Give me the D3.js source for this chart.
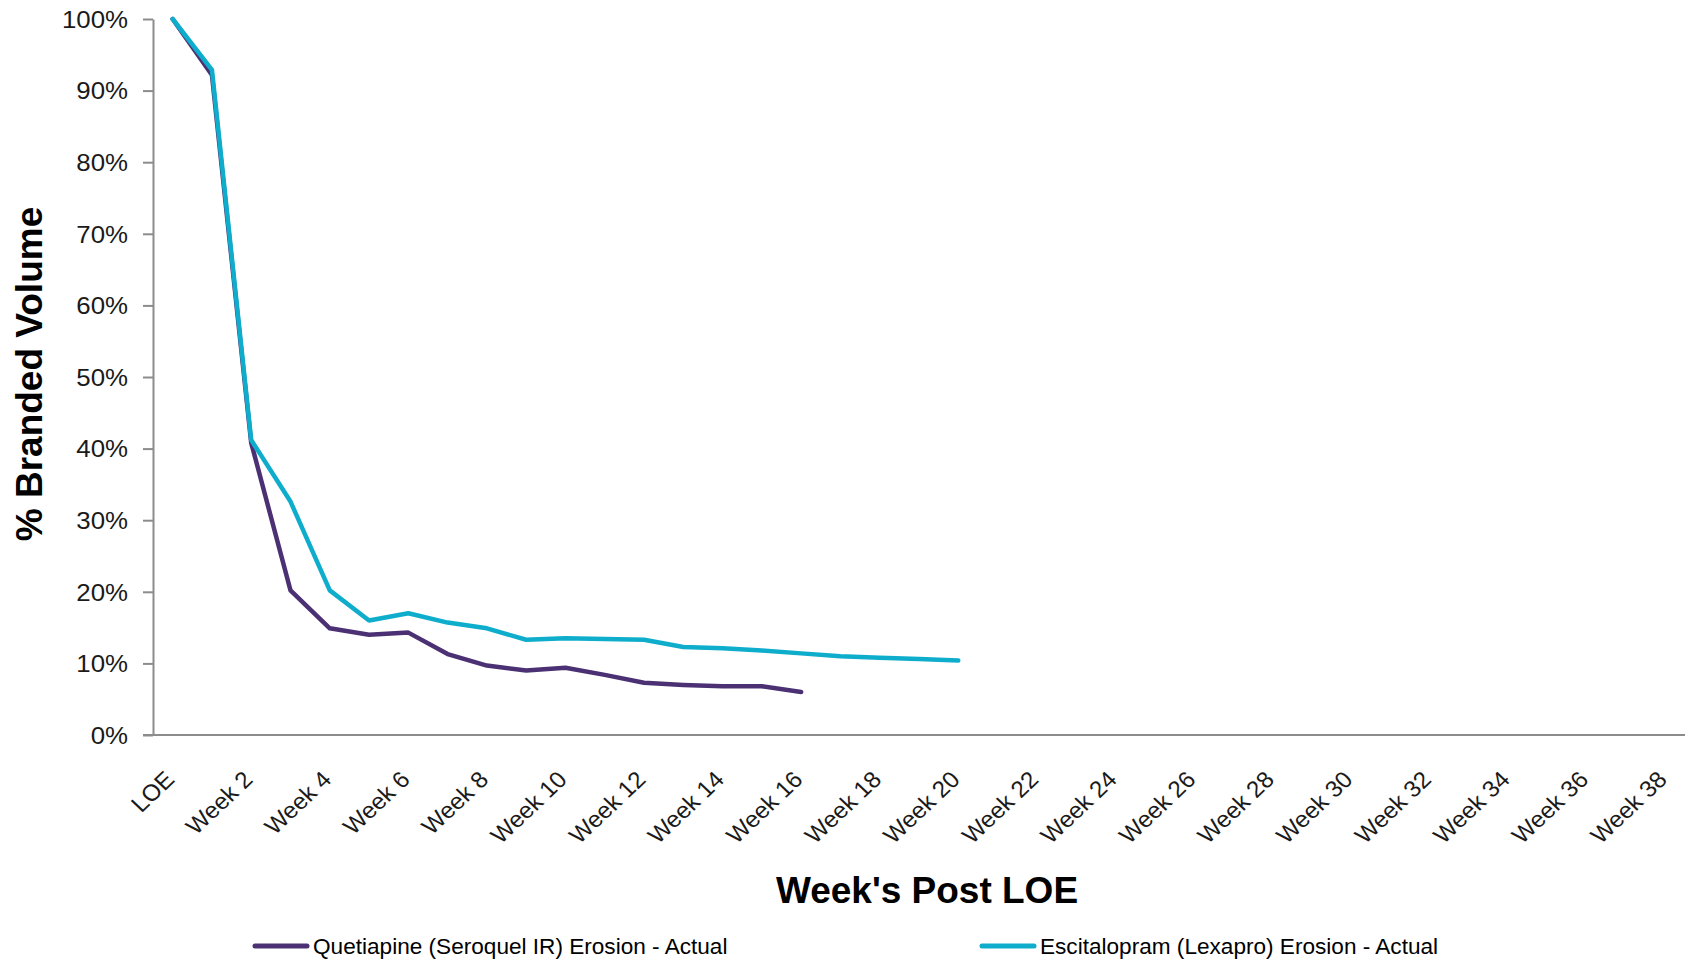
<!DOCTYPE html>
<html>
<head>
  <meta charset="utf-8">
  <title>Branded Volume Erosion Post LOE</title>
  <script src="https://d3js.org/d3.v7.min.js"></script>
  <style>
    body {
      margin: 0;
      background-color: white;
    }
    text {
      font-family: "Liberation Sans", Arial, sans-serif;
      fill: #1a1a1a;
    }
    .axis path, .axis line {
      stroke: #8c8c8c;
      stroke-width: 2px;
    }
    .series {
      fill: none;
      stroke-width: 4.5px;
      stroke-linejoin: round;
      stroke-linecap: round;
    }
  </style>
</head>
<body>
  <svg id="chart" width="1696" height="962"></svg>

<script>
// category labels (LOE + weeks 1..38)
var weeks = ["LOE", "Week 1", "Week 2", "Week 3", "Week 4", "Week 5", "Week 6", "Week 7",
  "Week 8", "Week 9", "Week 10", "Week 11", "Week 12", "Week 13", "Week 14", "Week 15",
  "Week 16", "Week 17", "Week 18", "Week 19", "Week 20", "Week 21", "Week 22", "Week 23",
  "Week 24", "Week 25", "Week 26", "Week 27", "Week 28", "Week 29", "Week 30", "Week 31",
  "Week 32", "Week 33", "Week 34", "Week 35", "Week 36", "Week 37", "Week 38"];

// % branded volume
var quetiapine = [100, 92.2, 40.8, 20.2, 14.9, 14.0, 14.3, 11.3, 9.7, 9.0, 9.4, 8.4,
  7.3, 7.0, 6.8, 6.8, 6.0];
var escitalopram = [100, 92.9, 41.2, 32.6, 20.2, 16.0, 17.0, 15.7, 14.9, 13.3, 13.5,
  13.4, 13.3, 12.3, 12.1, 11.8, 11.4, 11.0, 10.8, 10.6, 10.4];

var yTicks = [0, 10, 20, 30, 40, 50, 60, 70, 80, 90, 100];

var seriesNames = ["Quetiapine (Seroquel IR) Erosion - Actual",
  "Escitalopram (Lexapro) Erosion - Actual"];
var seriesColors = ["#4b3173", "#0eadcc"];

var svg = d3.select("#chart");

var plotLeft = 153, plotRight = 1685, plotTop = 19, plotBottom = 735;
var stretch = 1.1; // tick labels in the original are drawn slightly wide

var x = d3.scaleBand().domain(weeks).range([plotLeft, plotRight]);
var y = d3.scaleLinear().domain([0, 100]).range([plotBottom, plotTop]);

function cx(d) { return x(d) + x.bandwidth() / 2; }

// y axis
var yAxis = svg.append("g")
    .attr("class", "axis")
    .attr("transform", "translate(" + plotLeft + ",0)")
    .call(d3.axisLeft(y)
      .tickValues(yTicks)
      .tickSize(10)
      .tickSizeOuter(0)
      .tickFormat(function(d) { return d + "%"; }));

yAxis.selectAll("text")
    .attr("x", 0)
    .attr("dy", "0.35em")
    .attr("transform", "translate(-25,0) scale(" + stretch + ",1)")
    .style("font-size", "23.5px")
    .style("fill", "#1a1a1a");

// x axis (no tick marks, a label on every second week)
var xAxis = svg.append("g")
    .attr("class", "axis")
    .attr("transform", "translate(0," + plotBottom + ")")
    .call(d3.axisBottom(x)
      .tickValues(weeks.filter(function(d, i) { return i % 2 == 0; }))
      .tickSize(0)
      .tickSizeOuter(0));

xAxis.select(".domain").attr("d", "M" + (plotLeft - 10) + ",0H" + plotRight);

xAxis.selectAll(".tick").attr("transform", null);
xAxis.selectAll(".tick text")
    .attr("x", 0)
    .attr("y", 0)
    .attr("dy", 0)
    .attr("text-anchor", "end")
    .attr("transform", function(d) {
      return "translate(" + (cx(d) + 3) + ",46) scale(1.06,1) rotate(-45)";
    })
    .style("font-size", "23px")
    .style("fill", "#1a1a1a");

// axis titles
svg.append("text")
    .attr("transform", "translate(42,374) rotate(-90)")
    .attr("text-anchor", "middle")
    .style("font-size", "37px")
    .style("font-weight", "bold")
    .style("fill", "#000")
    .text("% Branded Volume");

svg.append("text")
    .attr("x", 927)
    .attr("y", 903)
    .attr("text-anchor", "middle")
    .style("font-size", "37px")
    .style("font-weight", "bold")
    .style("fill", "#000")
    .text("Week's Post LOE");

// lines
var line = d3.line()
    .x(function(d, i) { return cx(weeks[i]); })
    .y(function(d) { return y(d); });

[quetiapine, escitalopram].forEach(function(s, i) {
  svg.append("path")
      .datum(s)
      .attr("class", "series")
      .attr("stroke", seriesColors[i])
      .attr("d", line);
});

// legend
var legendX = [255, 982];
var legend = svg.append("g")
  .selectAll("g")
  .data(seriesNames)
  .enter().append("g")
    .attr("transform", function(d, i) { return "translate(" + legendX[i] + ",946)"; });

legend.append("line")
    .attr("x1", 0)
    .attr("x2", 52)
    .attr("stroke", function(d, i) { return seriesColors[i]; })
    .attr("stroke-width", 5)
    .attr("stroke-linecap", "round");

legend.append("text")
    .attr("x", 58)
    .attr("y", 8)
    .style("font-size", "22.6px")
    .style("fill", "#000")
    .text(function(d) { return d; });
</script>
</body>
</html>
